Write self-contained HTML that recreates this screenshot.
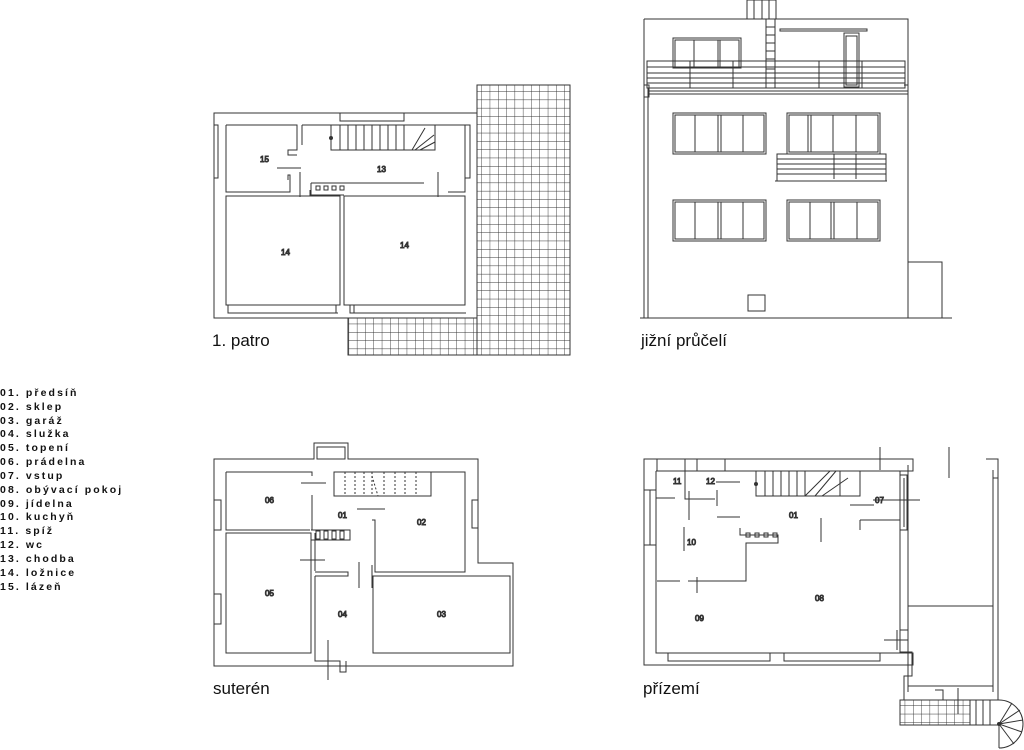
<!DOCTYPE html>
<html><head><meta charset="utf-8"><style>
html,body{margin:0;padding:0;background:#fff;width:1024px;height:750px;overflow:hidden}
svg{display:block}
.t{font-family:"Liberation Sans",sans-serif;fill:#111}
.lg{font-family:"Liberation Sans",sans-serif;font-weight:bold;font-size:10.5px;letter-spacing:2.1px;fill:#111}
.n{font-family:"Liberation Sans",sans-serif;font-size:8px;fill:#222}
</style></head><body>
<svg width="1024" height="750" viewBox="0 0 1024 750" xmlns="http://www.w3.org/2000/svg">
<defs>
<pattern id="g" x="0" y="0" width="8.3" height="8.3" patternUnits="userSpaceOnUse">
<path d="M0 0H8.3M0 0V8.3" stroke="#333" stroke-width="0.9" fill="none"/>
</pattern>
</defs>
<g fill="none" stroke="#333" stroke-width="1">

<!-- ===== 1. PATRO ===== -->
<rect x="477" y="85" width="93" height="270" fill="url(#g)"/>
<rect x="348" y="318" width="129" height="37" fill="url(#g)"/>
<rect x="214" y="113" width="263" height="205" fill="#fff"/>
<rect x="340" y="113" width="64" height="8"/>
<path d="M226 125H297V150H288V155H297M226 125V192H290V175H288V180"/>
<path d="M302 125H465V192H448M302 145V125"/>
<rect x="331" y="125" width="104" height="25"/>
<path d="M340 125V150M348 125V150M356 125V150M364 125V150M372 125V150M380 125V150M388 125V150M396 125V150M404 125V150M412 150L425 128M415 150L434 135M420 150L435 142"/>
<circle cx="331" cy="138" r="1.5" fill="#333"/>
<path d="M277 168H301M300 172V197M438 172V197M311 183H424M311 183V195H344M310 190V196"/>
<rect x="316" y="186" width="4" height="4"/><rect x="324" y="186" width="4" height="4"/><rect x="332" y="186" width="4" height="4"/><rect x="340" y="186" width="4" height="4"/>
<rect x="226" y="196" width="114" height="109"/>
<rect x="344" y="196" width="121" height="109"/>
<path d="M228 305V313H236M236 305H336V313M232 313H338M350 305V313H466M354 305V313"/>
<path d="M214 125H218V178H214M465 125H470V178H465"/>
<text class="n" x="260" y="162">15</text>
<text class="n" x="377" y="172">13</text>
<text class="n" x="281" y="255">14</text>
<text class="n" x="400" y="248">14</text>

<!-- ===== JIŽNÍ PRŮČELÍ ===== -->
<path d="M640 318H952"/>
<path d="M644 19H908V318M644 19V318M648 88V318M908 262H942V318"/>
<rect x="747" y="0" width="29" height="19"/>
<path d="M754 0V19M762 0V19M769 0V19"/>
<path d="M766 19V88M775 19V88M766 27H775M766 35H775M766 43H775M766 51H775M766 59H775M766 69H775"/>
<path d="M780 29H867V31H780Z"/>
<rect x="844" y="33" width="15" height="54"/><rect x="846" y="36" width="11" height="49"/>
<rect x="673" y="38" width="68" height="30"/><rect x="675" y="40" width="64" height="27"/>
<path d="M694 40V67M718 40V67M720 40V67"/>
<rect x="647" y="61" width="258" height="27"/>
<path d="M647 67H905M647 73H905M647 78H905M647 83H905M690 61V88M733 61V88M819 61V88M862 61V88"/>
<path d="M644 85H649V97H644M904 85H908V91"/>
<path d="M648 91H908M648 94H908"/>
<rect x="673" y="113" width="93" height="41"/><rect x="675" y="115" width="89" height="37"/>
<path d="M695 115V152M718 115V152M721 115V152M743 115V152"/>
<rect x="787" y="113" width="93" height="41"/><rect x="789" y="115" width="89" height="37"/>
<path d="M808 115V152M811 115V152M833 115V152M856 115V152"/>
<rect x="777" y="154" width="109" height="27"/>
<path d="M777 159H886M777 164H886M777 169H886M777 174H886M834 154V179M856 154V179M775 181H887"/>
<rect x="673" y="200" width="93" height="41"/><rect x="675" y="202" width="89" height="37"/>
<path d="M695 202V239M718 202V239M721 202V239M743 202V239"/>
<rect x="787" y="200" width="93" height="41"/><rect x="789" y="202" width="89" height="37"/>
<path d="M810 202V239M831 202V239M834 202V239M857 202V239"/>
<rect x="748" y="295" width="17" height="16"/>

<!-- ===== SUTERÉN ===== -->
<path d="M214 459H314V443H348V459H478V563H513V666H214Z"/>
<rect x="317" y="447" width="28" height="12"/>
<path d="M226 472H312V476M226 472V530H310M226 533H311V653H226Z"/>
<path d="M315 533V571M312 530V495M375 472H465V572H375V520H372"/>
<rect x="334" y="472" width="97" height="24"/>
<path d="M345 472V496M355 472V496M364 472V496M372 472V496M372 476L378 496M384 472V496M395 472V496M405 472V496M416 472V496" stroke-dasharray="2,2"/>
<path d="M301 483H326M357 509H385M372 565V588M315 572H348V576H315M315 576V661H340V672H346V661M328 640V680M373 576H510V653H373Z"/>
<path d="M311 530H350V540H311"/>
<rect x="316" y="531" width="4" height="8"/><rect x="324" y="531" width="4" height="8"/><rect x="332" y="531" width="4" height="8"/><rect x="340" y="531" width="4" height="8"/>
<path d="M300 560H325M359 562V588"/>
<path d="M214 500H221V530H214M214 594H221V624H214M478 500H472V528H478"/>
<text class="n" x="265" y="503">06</text>
<text class="n" x="338" y="518">01</text>
<text class="n" x="417" y="525">02</text>
<text class="n" x="265" y="596">05</text>
<text class="n" x="338" y="617">04</text>
<text class="n" x="437" y="617">03</text>

<!-- ===== PŘÍZEMÍ ===== -->
<path d="M644 459H913V471H900V653H913V665H644Z"/>
<path d="M656 471H900M656 471V653H900"/>
<rect x="657" y="459" width="28" height="12"/><rect x="697" y="459" width="28" height="12"/>
<path d="M656 498H675M685 471V499H715M689 491V520M717 490V506"/>
<rect x="756" y="471" width="104" height="25"/>
<path d="M765 471V496M773 471V496M781 471V496M789 471V496M797 471V496M805 471V496M805 496L830 471M815 496L836 471M822 496L848 478M840 471V496" />
<circle cx="756" cy="484" r="1.5" fill="#333"/>
<path d="M716 482H740M717 517H740M821 518V542M850 505H874M860 520H900M860 520V530M684 527V551M697 577V593M657 581H680M688 581H746V543H778V535H740V528"/>
<rect x="746" y="533" width="4" height="4"/><rect x="755" y="533" width="4" height="4"/><rect x="764" y="533" width="4" height="4"/><rect x="773" y="533" width="4" height="4"/>
<path d="M880 447V470M949 447V478M873 500H920M668 653V661H770V653M672 661H768M784 653V661H880V653M788 661H878"/>
<path d="M644 490H656V545H644"/><path d="M650 490V545"/>
<path d="M900 475H907V530H900M904 478V527"/>
<!-- right wing -->
<path d="M908 465V606M908 606H993V692M908 606V692M986 459H998V700M993 470V692"/>
<path d="M993 478H998V528"/>
<path d="M884 640H908M897 630V650M900 630H908M900 652H912V676H904V700H900"/>
<path d="M908 612V686H993"/>
<rect x="900" y="700" width="70" height="25" fill="url(#g)"/>
<path d="M970 700H999M970 725H999M976 700V725M983 700V725M990 700V725M900 725H999"/>
<path d="M999 700A24 24 0 0 1 999 748M999 724L1020 710M999 724L1023 720M999 724L1022 732M999 724L1014 744M999 724L1012 703M999 724V748"/>
<circle cx="999" cy="724" r="1.5" fill="#333"/>
<path d="M958 688V714M935 690H943V700"/>
<text class="n" x="673" y="484">11</text>
<text class="n" x="706" y="484">12</text>
<text class="n" x="875" y="503">07</text>
<text class="n" x="789" y="518">01</text>
<text class="n" x="687" y="545">10</text>
<text class="n" x="815" y="601">08</text>
<text class="n" x="695" y="621">09</text>
</g>

<text class="t" x="212" y="346" font-size="17">1. patro</text>
<text class="t" x="641" y="346" font-size="17">jižní průčelí</text>
<text class="t" x="213" y="694" font-size="17">suterén</text>
<text class="t" x="643" y="694" font-size="17">přízemí</text>

<g class="lg">
<text x="0" y="396">01. předsíň</text>
<text x="0" y="410">02. sklep</text>
<text x="0" y="424">03. garáž</text>
<text x="0" y="437">04. služka</text>
<text x="0" y="451">05. topení</text>
<text x="0" y="465">06. prádelna</text>
<text x="0" y="479">07. vstup</text>
<text x="0" y="493">08. obývací pokoj</text>
<text x="0" y="507">09. jídelna</text>
<text x="0" y="520">10. kuchyň</text>
<text x="0" y="534">11. spíž</text>
<text x="0" y="548">12. wc</text>
<text x="0" y="562">13. chodba</text>
<text x="0" y="576">14. ložnice</text>
<text x="0" y="590">15. lázeň</text>
</g>
</svg>
</body></html>
